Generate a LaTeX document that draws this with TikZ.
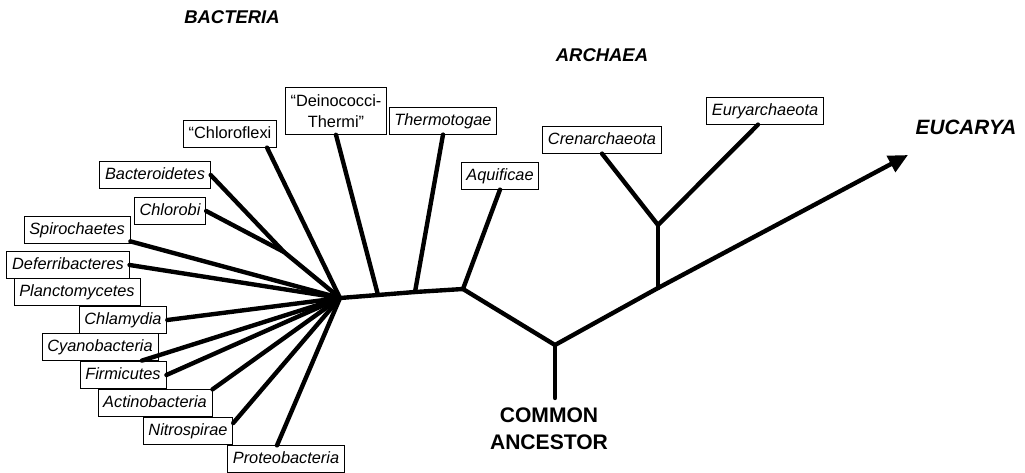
\documentclass[tikz,border=0pt]{standalone}
\usepackage{fontspec}
\setmainfont{Liberation Sans}
\usetikzlibrary{arrows.meta,calc}
\begin{document}
\begin{tikzpicture}[x=0.02cm,y=-0.02cm,
  taxon/.style={draw,line width=0.5pt,inner sep=3pt,text height=7pt,text depth=2pt,font=\fontsize{9.3}{11}\selectfont\itshape},
  taxonup/.style={taxon,font=\fontsize{9.3}{11}\selectfont},
  branch/.style={line width=2.5pt,line cap=round,line join=round},
  domainlabel/.style={font=\fontsize{10.5}{12}\selectfont\bfseries\itshape},
]
\path[use as bounding box] (0,0) rectangle (1025,473);

% domain labels
\node[domainlabel] (bac) at (232,17) {BACTERIA};
\node[domainlabel] (arc) at (602,55) {ARCHAEA};
\node[domainlabel,font=\fontsize{11.8}{13}\selectfont\bfseries\itshape] (euc) at (966,127) {EUCARYA};
\node[font=\fontsize{12}{15.5}\selectfont\bfseries,align=center] (ca) at (549,429) {COMMON\\ANCESTOR};

% taxa boxes
\node[taxon] (bact) at (155,175) {Bacteroidetes};
\node[taxon] (chlb) at (170,211) {Chlorobi};
\node[taxon] (spir) at (77,230) {Spirochaetes};
\node[taxon] (defe) at (68,265) {Deferribacteres};
\node[taxon] (plan) at (77,292) {Planctomycetes};
\node[taxon] (chla) at (123,320) {Chlamydia};
\node[taxon] (cyan) at (100,347) {Cyanobacteria};
\node[taxon] (firm) at (123,375) {Firmicutes};
\node[taxon] (acti) at (155,403) {Actinobacteria};
\node[taxon] (nitr) at (188,431) {Nitrospirae};
\node[taxon] (prot) at (286,459) {Proteobacteria};
\node[taxonup] (chfl) at (230,134) {“Chloroflexi};
\node[taxonup,align=center,text height=,text depth=,minimum height=26.6pt,
      font=\fontsize{9.3}{12}\selectfont] (dein) at (336,111) {“Deinococci-\\Thermi”};
\node[taxon] (ther) at (443,121) {Thermotogae};
\node[taxon] (aqui) at (500,176) {Aquificae};
\node[taxon] (cren) at (602,140) {Crenarchaeota};
\node[taxon] (eury) at (765,111) {Euryarchaeota};

% internal points
\coordinate (hub) at (340,298);
\coordinate (jbc) at (284,252);
\coordinate (jdn) at (378,295);
\coordinate (jth) at (415,292);
\coordinate (jaq) at (463,289);
\coordinate (root) at (555,345);
\coordinate (rootend) at (555,398);
\coordinate (jar) at (658,288);
\coordinate (jce) at (658,225);
\coordinate (tip) at (908,155);

% bacterial branches
\draw[branch] (bact.east) -- (jbc);
\draw[branch] (chlb.east) -- (jbc) -- (hub);
\draw[branch] (spir.-12) -- (hub);
\draw[branch] (defe.east) -- (hub);
\draw[branch] (chla.east) -- (hub);
\draw[branch] (cyan.-18) -- (hub);
\draw[branch] (firm.east) -- (hub);
\draw[branch] (acti.north east) -- (hub);
\draw[branch] (nitr.10) -- (hub);
\draw[branch] ($(prot.north)+(-9,0)$) -- (hub);
\draw[branch] ($(chfl.south east)+(-10,0)$) -- (hub);
\draw[branch] (dein.south) -- (jdn);
\draw[branch] (ther.south) -- (jth);
\draw[branch] (aqui.south) -- (jaq);

% backbone
\draw[branch] (hub) -- (jdn) -- (jth) -- (jaq) -- (root) -- (jar);
\draw[branch] (root) -- (rootend);
\draw[branch] (jar) -- (jce);
\draw[branch] (cren.south) -- (jce) -- ($(eury.south)+(-7,0)$);
\draw[branch,line cap=butt,-{Triangle[length=11pt,width=10pt]}] (jar) -- (tip);
\end{tikzpicture}
\end{document}
